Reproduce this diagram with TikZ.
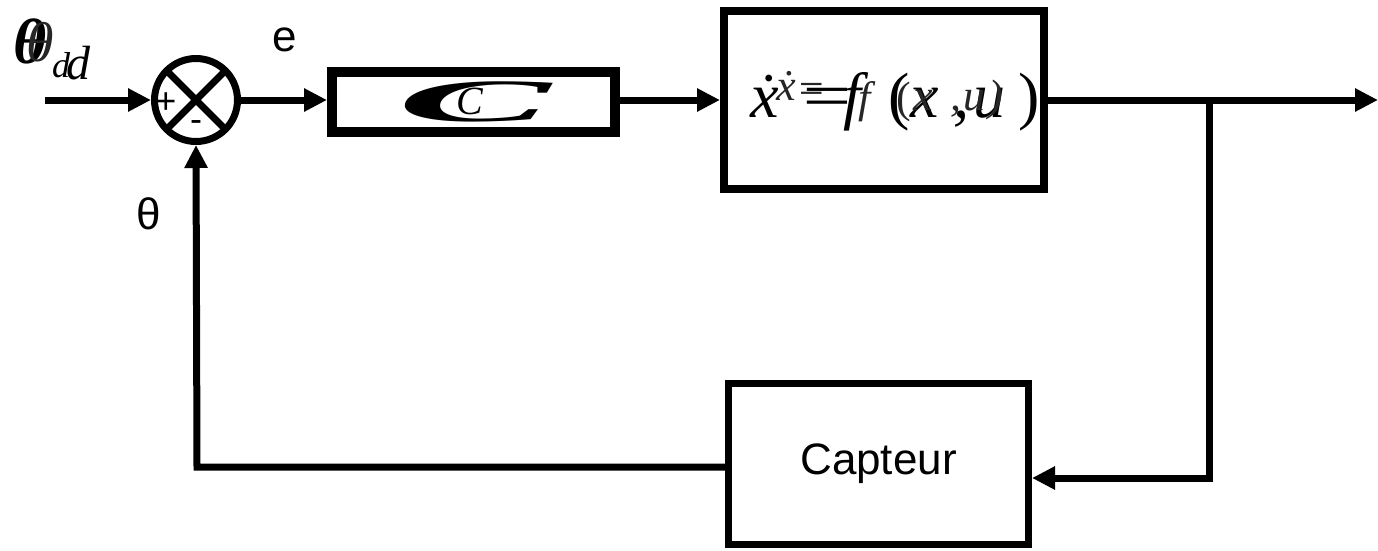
\documentclass[tikz,border=0pt]{standalone}
\usepackage{fontspec}
\setmainfont{Liberation Sans}
\newfontfamily\serif{Liberation Serif}
\usetikzlibrary{arrows.meta,calc}

% place a glyph at a horizontal offset and a raise, taking no width
\newcommand\glyphat[3]{\makebox[0pt][l]{\kern#1pt\raisebox{#2pt}{#3}}}

\begin{document}
\begin{tikzpicture}[x=1pt,y=-1pt,
  wire/.style={line width=7pt},
  arr/.style={wire,-{Triangle[length=23pt,width=22pt]}},
  block/.style={draw,rectangle,fill=white,inner sep=0pt},
  lbl/.style={inner sep=0pt,font=\fontsize{44}{44}\selectfont}]
\useasboundingbox (0,0) rectangle (1378,550);

% summing junction
\node[circle,draw,line width=7pt,minimum size=83pt,inner sep=0pt] (sum) at (196,100) {};
\draw[line width=7pt] ($(sum.center)+(45:41)$) -- ($(sum.center)+(225:41)$);
\draw[line width=7pt] ($(sum.center)+(135:41)$) -- ($(sum.center)+(-45:41)$);
\node[inner sep=0pt,font=\fontsize{36}{36}\selectfont] (plus) at (166,103) {+};
\node[inner sep=0pt,font=\fontsize{36}{36}\selectfont] (minus) at (196,126) {-};

% controller
\node[block,line width=10pt,minimum width=283pt,minimum height=60pt] (ctrl) at (473.5,102) {};
\node[inner sep=0pt] (cbig) at (474,102) {\scalebox{4.8}[1.25]{\fontsize{48}{48}\serif\bfseries\itshape C}};
\node[inner sep=0pt,font=\fontsize{40}{40}\serif\itshape] (csmall) at (470,101) {C};

% plant
\node[block,line width=8pt,minimum width=320pt,minimum height=178pt] (plant) at (884,100) {};
\node[inner sep=0pt,anchor=base west,font=\fontsize{64}{64}\serif\itshape] (eqbig) at (750,117)
  {\glyphat{0}{0}{\.x}\glyphat{47}{0}{\scalebox{1.35}[1]{=}}\glyphat{93}{0}{f}%
   \glyphat{138}{0}{\upshape(}\glyphat{160}{0}{x}\glyphat{203}{0}{,}%
   \glyphat{223}{0}{u}\glyphat{268}{0}{\upshape)}\phantom{x}};
\node[inner sep=0pt,anchor=base west,font=\fontsize{44}{44}\serif\itshape,text=black!85] (eqsmall) at (750,117)
  {\glyphat{26}{17}{\.x}\glyphat{46}{14}{=}\glyphat{108}{5}{f}%
   \glyphat{146}{5}{\upshape(}\glyphat{163}{7}{x}\glyphat{200}{7}{,}%
   \glyphat{213}{7}{u}\glyphat{238}{7}{)}\phantom{x}};

% sensor
\node[block,line width=7pt,minimum width=300pt,minimum height=161pt,font=\fontsize{44}{44}\selectfont] (sens) at (878.5,464) {Capteur};

% signal labels
\node[inner sep=0pt,font=\fontsize{64}{64}\serif\bfseries\itshape] (thd1) at (30,41) {θ};
\node[inner sep=0pt,font=\fontsize{56}{56}\serif\itshape,text=black!85] (thd2) at (40,42) {θ};
\node[inner sep=0pt,font=\fontsize{36}{36}\serif\itshape] (sub1) at (61,65) {d};
\node[inner sep=0pt,font=\fontsize{48}{48}\serif\itshape] (sub2) at (78,63) {d};
\node[lbl] (e) at (285,40) {e};
\node[lbl] (th) at (149,214) {θ};

% connectors
\coordinate (in) at (45,100);
\coordinate (out) at (1378,100);
\coordinate (tap) at (1209,100);
\coordinate (tapdn) at (1209,478);
\coordinate (fb) at (197,467);

\draw[arr] (in) -- (sum.west);
\draw[arr] (sum.east) -- (sum.east -| ctrl.west);
\draw[arr] (ctrl.east |- 0,100) -- (plant.west |- 0,100);
\draw[arr] (plant.east |- 0,100) -- (out);
\draw[arr] (tap) -- (tapdn) -- (sens.east |- tapdn);
\draw[arr] (sens.west |- fb) -- (fb) -- (sum.south);
\end{tikzpicture}
\end{document}
